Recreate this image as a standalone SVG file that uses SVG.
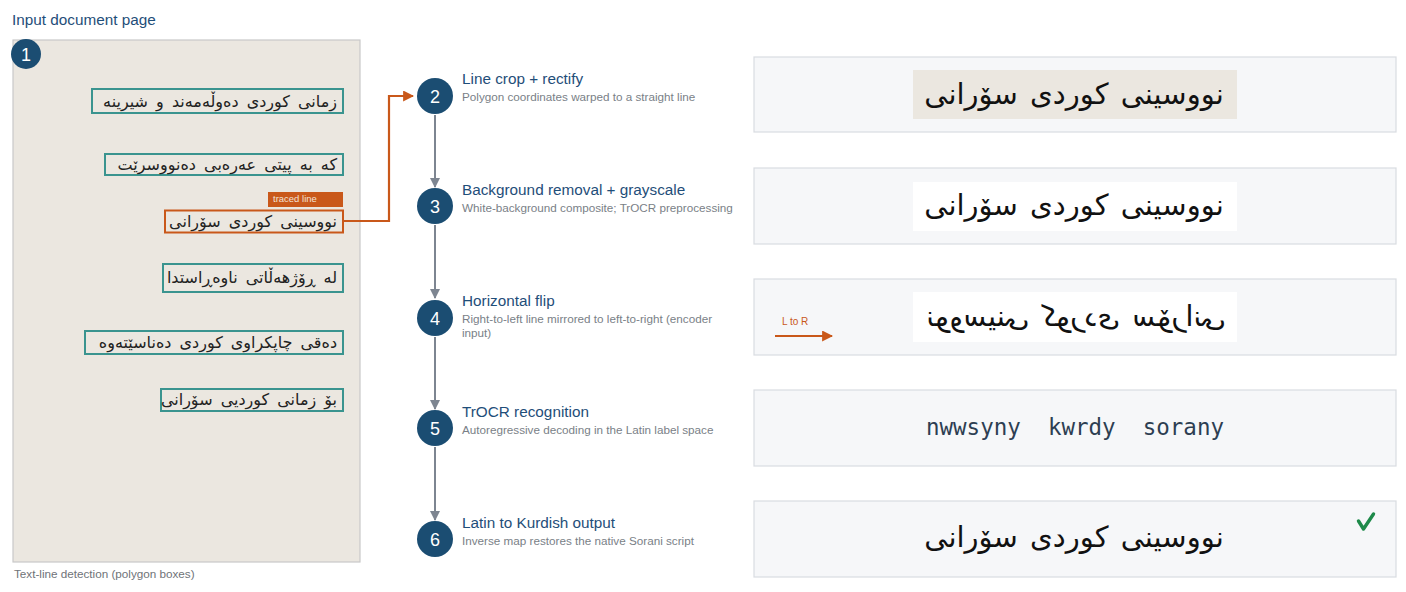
<svg xmlns="http://www.w3.org/2000/svg" width="1406" height="592" viewBox="0 0 1406 592">
<defs>
<style>
.h{font-family:"Liberation Sans",Arial,sans-serif;font-size:15.3px;fill:#1f4e79}
.s{font-family:"Liberation Sans",Arial,sans-serif;font-size:11.7px;fill:#7a7f87}
.cap{font-family:"Liberation Sans",Arial,sans-serif;font-size:11.7px;fill:#6f7378}
.num{font-family:"Liberation Sans",Arial,sans-serif;font-size:18px;fill:#fff;text-anchor:middle}
.circ{fill:#1b4d72}
.ln{fill:none;stroke:#3a948f;stroke-width:2}
.ku{font-family:"DejaVu Sans",sans-serif;font-size:16px;fill:#222;text-anchor:end;word-spacing:3px}
.kb{font-family:"DejaVu Sans",sans-serif;font-size:29px;fill:#111;text-anchor:middle;word-spacing:3px}
.panel{fill:#f6f7f9;stroke:#d9dce1;stroke-width:1.2}
.gc{fill:none;stroke:#7d8591;stroke-width:2}
</style>
<marker id="ga" viewBox="0 0 10 10" refX="9" refY="5" markerWidth="5" markerHeight="5" orient="auto"><path d="M0,0L10,5L0,10z" fill="#7d8591"/></marker>
<marker id="oa" viewBox="0 0 10 10" refX="9" refY="5" markerWidth="5" markerHeight="5" orient="auto"><path d="M0,0L10,5L0,10z" fill="#c9581a"/></marker>
</defs>
<rect width="1406" height="592" fill="#fff"/>

<g id="page">
<text x="12" y="25" class="h">Input document page</text>
<rect x="13" y="40" width="347" height="522" fill="#ebe7e0" stroke="#c9c9c9" stroke-width="1.2"/>
<circle cx="26" cy="54" r="15" class="circ"/>
<text x="26" y="60.5" class="num">1</text>
<rect x="92" y="89" width="251" height="24" class="ln"/>
<text x="337" y="107" class="ku">زمانی کوردی دەوڵەمەند و شیرینە</text>
<rect x="105" y="154" width="238" height="21" class="ln"/>
<text x="337" y="170" class="ku">کە بە پیتی عەرەبی دەنووسرێت</text>
<rect x="268" y="192" width="75" height="15" fill="#c9581a"/>
<text x="273" y="202" font-family="Liberation Sans, Arial, sans-serif" font-size="9.5" fill="#f3e2d6">traced line</text>
<rect x="165" y="210.5" width="178" height="22" fill="none" stroke="#c9581a" stroke-width="2"/>
<text x="337" y="227" class="ku">نووسینی کوردی سۆرانی</text>
<rect x="163" y="264" width="180" height="28" class="ln"/>
<text x="337" y="283" class="ku">لە ڕۆژهەڵاتی ناوەڕاستدا</text>
<rect x="85" y="331" width="258" height="23" class="ln"/>
<text x="337" y="348" class="ku">دەقی چاپکراوی کوردی دەناسێتەوە</text>
<rect x="161" y="389" width="182" height="22" class="ln"/>
<text x="337" y="405" class="ku">بۆ زمانی کوردیی سۆرانی</text>
<text x="14" y="578" class="cap">Text-line detection (polygon boxes)</text>
</g>

<g id="connectors">
<path d="M343,221H389V96H413" fill="none" stroke="#c9581a" stroke-width="2.2" marker-end="url(#oa)"/>
<path d="M435,115V187" class="gc" marker-end="url(#ga)"/>
<path d="M435,225V298" class="gc" marker-end="url(#ga)"/>
<path d="M435,337V409" class="gc" marker-end="url(#ga)"/>
<path d="M435,447V520" class="gc" marker-end="url(#ga)"/>
</g>

<g id="step2">
<circle cx="435" cy="96" r="18" class="circ"/>
<text x="435" y="102.5" class="num">2</text>
<text x="462" y="84" class="h">Line crop + rectify</text>
<text x="462" y="101" class="s">Polygon coordinates warped to a straight line</text>
<rect x="754" y="57" width="642" height="75" class="panel"/>
<rect x="913" y="70" width="324" height="49" fill="#ebe7e0"/>
<text x="1074" y="104" class="kb">نووسینی کوردی سۆرانی</text>
</g>

<g id="step3">
<circle cx="435" cy="206" r="18" class="circ"/>
<text x="435" y="212.5" class="num">3</text>
<text x="462" y="195" class="h">Background removal + grayscale</text>
<text x="462" y="212" class="s">White-background composite; TrOCR preprocessing</text>
<rect x="754" y="168" width="642" height="76" class="panel"/>
<rect x="913" y="182" width="324" height="49" fill="#fff"/>
<text x="1074" y="215" class="kb">نووسینی کوردی سۆرانی</text>
</g>

<g id="step4">
<circle cx="435" cy="318" r="18" class="circ"/>
<text x="435" y="324.5" class="num">4</text>
<text x="462" y="306" class="h">Horizontal flip</text>
<text x="462" y="323" class="s">Right-to-left line mirrored to left-to-right (encoder</text>
<text x="462" y="337" class="s">input)</text>
<rect x="754" y="279" width="642" height="76" class="panel"/>
<rect x="913" y="292" width="324" height="50" fill="#fff"/>
<text x="1074" y="326" class="kb" transform="translate(2150,0) scale(-1,1)">نووسینی کوردی سۆرانی</text>
<text x="782" y="325" font-family="Liberation Sans, Arial, sans-serif" font-size="10" fill="#c9581a">L to R</text>
<path d="M775,336H832" fill="none" stroke="#c9581a" stroke-width="2.2" marker-end="url(#oa)"/>
</g>

<g id="step5">
<circle cx="435" cy="428" r="18" class="circ"/>
<text x="435" y="434.5" class="num">5</text>
<text x="462" y="417" class="h">TrOCR recognition</text>
<text x="462" y="434" class="s">Autoregressive decoding in the Latin label space</text>
<rect x="754" y="390" width="642" height="76" class="panel"/>
<text x="1075" y="435" font-family="DejaVu Sans Mono, monospace" font-size="22.5" fill="#2d3e52" text-anchor="middle" xml:space="preserve">nwwsyny  kwrdy  sorany</text>
</g>

<g id="step6">
<circle cx="435" cy="539" r="18" class="circ"/>
<text x="435" y="545.5" class="num">6</text>
<text x="462" y="528" class="h">Latin to Kurdish output</text>
<text x="462" y="545" class="s">Inverse map restores the native Sorani script</text>
<rect x="754" y="501" width="642" height="76" class="panel"/>
<text x="1074" y="547" class="kb">نووسینی کوردی سۆرانی</text>
<path d="M1358.5,521L1363.5,529L1373.5,514" fill="none" stroke="#1e8a4a" stroke-width="3.4" stroke-linecap="round" stroke-linejoin="round"/>
</g>
</svg>
